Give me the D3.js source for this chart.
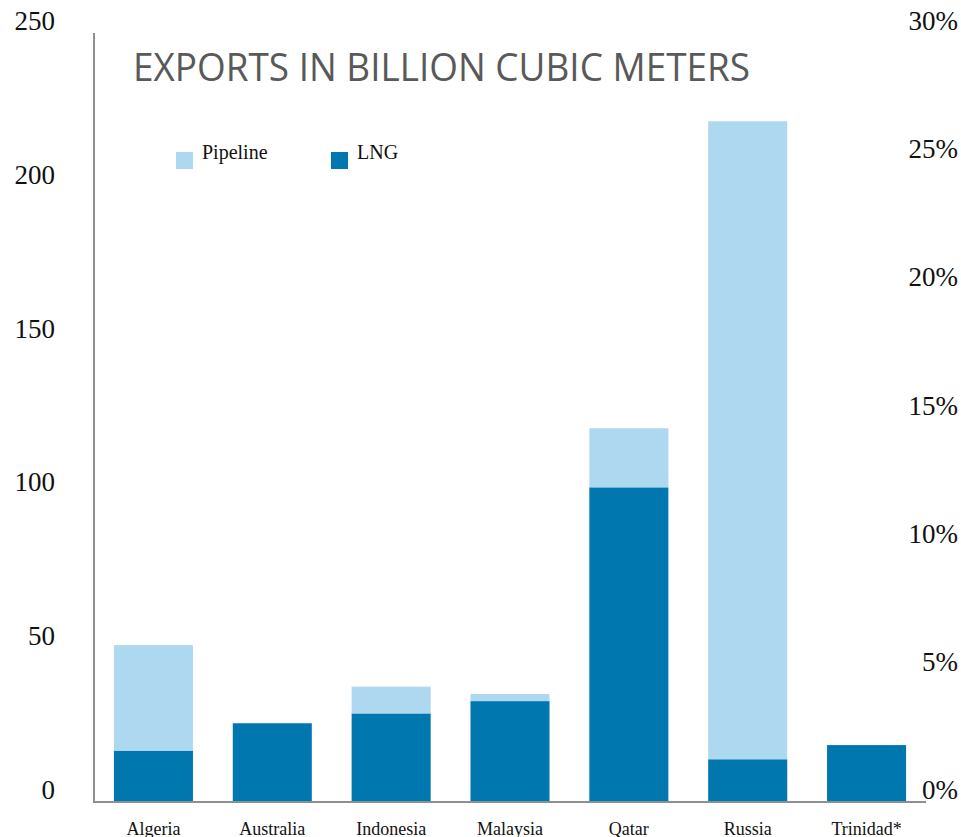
<!DOCTYPE html>
<html>
<head>
<meta charset="utf-8">
<script src="https://cdn.jsdelivr.net/npm/d3@7"></script>
<style>
  html, body { margin: 0; padding: 0; background: #fff; }
  svg { display: block; }
</style>
</head>
<body>
<svg id="chart" width="961" height="837"></svg>
<script>
// Gas exports by country, billion cubic metres
const countries = ["Algeria", "Australia", "Indonesia", "Malaysia", "Qatar", "Russia", "Trinidad*"];
const lngValues = [16.7, 25.6, 28.8, 32.8, 102.3, 13.9, 18.5];
const pipelineValues = [34.3, 0, 8.7, 2.3, 19.2, 207.4, 0];
const seriesNames = ["LNG", "Pipeline"];
const seriesColors = ["#0077AF", "#ADD8F0"];
const leftTicks = [0, 50, 100, 150, 200, 250];
const rightTicks = [0, 0.05, 0.10, 0.15, 0.20, 0.25, 0.30];
const titleText = "EXPORTS IN BILLION CUBIC METERS";

const svg = d3.select("#chart");
const serif = "'Liberation Serif', 'Times New Roman', serif";

const x = d3.scaleBand()
  .domain(countries)
  .range([94, 926])
  .paddingInner(0.335)
  .paddingOuter(0.1675);

const y = d3.scaleLinear().domain([0, 250]).range([802, 33]);
const yRight = d3.scaleLinear().domain([0, 0.30]).range([802, 33]);

// Stack LNG at the bottom, pipeline on top
const rows = countries.map((c, i) => ({ country: c, LNG: lngValues[i], Pipeline: pipelineValues[i] }));
const stacked = d3.stack().keys(seriesNames)(rows);

svg.append("g")
  .selectAll("g")
  .data(stacked)
  .join("g")
  .attr("fill", (d, i) => seriesColors[i])
  .selectAll("rect")
  .data(d => d.filter(p => p[1] - p[0] > 0))
  .join("rect")
  .attr("x", d => x(d.data.country))
  .attr("width", x.bandwidth())
  .attr("y", d => y(d[1]))
  .attr("height", d => y(d[0]) - y(d[1]));

// Left value axis labels
const leftAxis = svg.append("g")
  .attr("transform", "translate(55,0)")
  .call(d3.axisLeft(y).tickValues(leftTicks).tickSize(0).tickPadding(0).tickFormat(d3.format("d")));
leftAxis.select(".domain").remove();
leftAxis.selectAll("text")
  .attr("font-family", serif)
  .attr("font-size", 27)
  .attr("fill", "#111")
  .attr("dy", "-0.13em");

// Right percentage axis labels
const rightAxis = svg.append("g")
  .attr("transform", "translate(958,0)")
  .call(d3.axisLeft(yRight).tickValues(rightTicks).tickSize(0).tickPadding(0).tickFormat(d3.format(".0%")));
rightAxis.select(".domain").remove();
rightAxis.selectAll("text")
  .attr("font-family", serif)
  .attr("font-size", 27)
  .attr("fill", "#111")
  .attr("dy", "-0.13em");

// Axis lines
svg.append("line")
  .attr("x1", x.range()[0]).attr("x2", x.range()[0])
  .attr("y1", y(250)).attr("y2", y(0) + 1)
  .attr("stroke", "#8f8f8f").attr("stroke-width", 2);
svg.append("line")
  .attr("x1", x.range()[0] - 1).attr("x2", x.range()[1])
  .attr("y1", y(0)).attr("y2", y(0))
  .attr("stroke", "#8f8f8f").attr("stroke-width", 2);

// Category labels
const bottomAxis = svg.append("g")
  .attr("transform", `translate(0,${y(0)})`)
  .call(d3.axisBottom(x).tickSize(0).tickPadding(0));
bottomAxis.select(".domain").remove();
bottomAxis.selectAll("text")
  .attr("font-family", serif)
  .attr("font-size", 18)
  .attr("fill", "#111")
  .attr("dy", null)
  .attr("y", 33);

// Title
svg.append("text")
  .attr("x", 133)
  .attr("y", 81)
  .attr("font-family", "'Open Sans', sans-serif")
  .attr("font-size", 38)
  .attr("fill", "#595959")
  .attr("textLength", 617)
  .attr("lengthAdjust", "spacingAndGlyphs")
  .text(titleText);

// Legend
const legendItems = [
  { name: "Pipeline", color: seriesColors[1], x: 176 },
  { name: "LNG", color: seriesColors[0], x: 331 }
];
const legend = svg.append("g");
legendItems.forEach(item => {
  legend.append("rect")
    .attr("x", item.x).attr("y", 152)
    .attr("width", 17).attr("height", 17)
    .attr("fill", item.color);
  legend.append("text")
    .attr("x", item.x + 26).attr("y", 159)
    .attr("font-family", serif)
    .attr("font-size", 20)
    .attr("fill", "#111")
    .text(item.name);
});
</script>
</body>
</html>
